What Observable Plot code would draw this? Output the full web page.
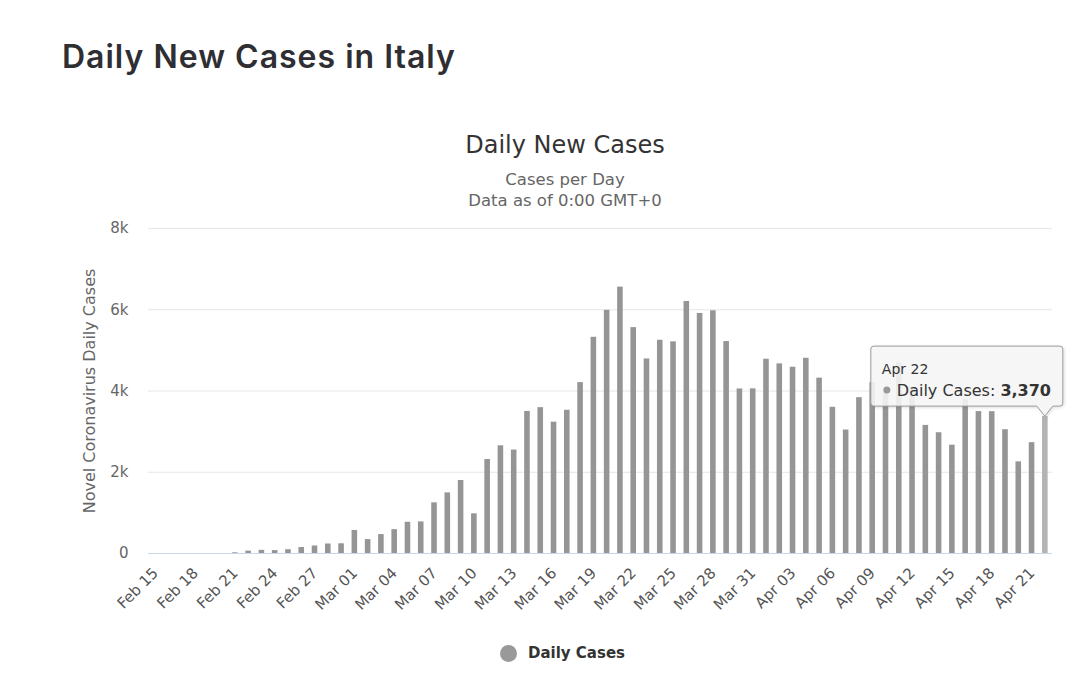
<!DOCTYPE html>
<html><head><meta charset="utf-8">
<script src="https://cdn.jsdelivr.net/npm/d3@7"></script>
<script src="https://cdn.jsdelivr.net/npm/@observablehq/plot@0.6"></script>
<style>
body{margin:0;background:#fff;width:1080px;height:679px;position:relative;overflow:hidden;font-family:"DejaVu Sans",sans-serif;}
#pagetitle{position:absolute;left:62px;top:37px;margin:0;font:600 32px "Inter",sans-serif;letter-spacing:1px;color:#2e2e33;white-space:nowrap}
#ctitle{position:absolute;left:0;width:1130px;top:131px;text-align:center;font-size:24px;color:#333}
#csub{position:absolute;left:0;width:1130px;top:169px;text-align:center;font-size:16.5px;color:#666;line-height:21px}
#chart{position:absolute;left:0;top:210px}
#ylabel{position:absolute;left:89px;top:391px;transform:translate(-50%,-50%) rotate(-90deg);font-size:16px;color:#666;white-space:nowrap}
#legend{position:absolute;left:500px;top:644px;font-size:15px;font-weight:bold;color:#333;display:flex;align-items:center;white-space:nowrap}
#legend span.dot{display:inline-block;width:17px;height:17px;border-radius:50%;background:#999;margin-right:11px}
#tip{position:absolute;left:0;top:0;pointer-events:none}
</style>
</head><body>
<h1 id="pagetitle">Daily New Cases in Italy</h1>
<div id="ctitle">Daily New Cases</div>
<div id="csub">Cases per Day<br>Data as of 0:00 GMT+0</div>
<div id="chart"></div>
<div id="ylabel">Novel Coronavirus Daily Cases</div>
<div id="legend"><span class="dot"></span>Daily Cases</div>
<script>
const dates = ["Feb 15","Feb 16","Feb 17","Feb 18","Feb 19","Feb 20","Feb 21","Feb 22","Feb 23","Feb 24","Feb 25","Feb 26","Feb 27","Feb 28","Feb 29",
"Mar 01","Mar 02","Mar 03","Mar 04","Mar 05","Mar 06","Mar 07","Mar 08","Mar 09","Mar 10","Mar 11","Mar 12","Mar 13","Mar 14","Mar 15","Mar 16","Mar 17","Mar 18","Mar 19","Mar 20","Mar 21","Mar 22","Mar 23","Mar 24","Mar 25","Mar 26","Mar 27","Mar 28","Mar 29","Mar 30","Mar 31",
"Apr 01","Apr 02","Apr 03","Apr 04","Apr 05","Apr 06","Apr 07","Apr 08","Apr 09","Apr 10","Apr 11","Apr 12","Apr 13","Apr 14","Apr 15","Apr 16","Apr 17","Apr 18","Apr 19","Apr 20","Apr 21","Apr 22"];
const cases = [0,0,0,0,0,0,17,59,78,72,94,147,185,234,239,
566,342,466,587,769,778,1247,1492,1797,977,2313,2651,2547,3497,3590,3233,3526,4207,5322,5986,6557,5560,4789,5249,5210,6203,5909,5974,5217,4050,4053,
4782,4668,4585,4805,4316,3599,3039,3836,4204,3951,4694,4092,3153,2972,2667,3786,3493,3491,3047,2256,2729,3370];
const xTicks = ["Feb 15","Feb 18","Feb 21","Feb 24","Feb 27","Mar 01","Mar 04","Mar 07","Mar 10","Mar 13","Mar 16","Mar 19","Mar 22","Mar 25","Mar 28","Mar 31","Apr 03","Apr 06","Apr 09","Apr 12","Apr 15","Apr 18","Apr 21"];
const yTicks = [0,2000,4000,6000,8000];
const tipDate = "Apr 22";
const seriesName = "Daily Cases";

const data = dates.map((d,i)=>({date:d, cases:cases[i]}));

const chart = Plot.plot({
  width:1080, height:420,
  marginTop:18, marginBottom:77, marginLeft:148, marginRight:28,
  style:{fontFamily:"DejaVu Sans, sans-serif", fontSize:"14px", color:"#666", background:"transparent", overflow:"visible"},
  x:{type:"band", domain:dates, paddingInner:0.58, paddingOuter:0.33, round:false, label:null},
  y:{domain:[0,8000], label:null},
  color:{type:"identity"},
  marks:[
    Plot.ruleY(yTicks.filter(v=>v>0), {stroke:"#e6e6e6"}),
    Plot.barY(data, {x:"date", y:"cases", fill: d => d.date === tipDate ? "#b3b3b3" : "#959595"}),
    Plot.ruleY([0], {stroke:"#ccd6eb"}),
    Plot.axisY({ticks:yTicks, tickSize:0, tickPadding:20, tickFormat: d => d === 0 ? "0" : (d/1000) + "k", label:null, fontSize:15, fill:"#666"}),
    Plot.axisX({ticks:xTicks, tickSize:0, tickPadding:17, tickRotate:-45, label:null, fontSize:15, fill:"#555"})
  ]
});
document.getElementById("chart").appendChild(chart);

// tooltip anchored to the data point through the chart's scales
const xs = chart.scale("x"), ys = chart.scale("y");
const offX = 0, offY = 210;
const tipVal = cases[dates.indexOf(tipDate)];
const px = offX + xs.apply(tipDate) + xs.bandwidth/2;
const py = offY + ys.apply(tipVal);
const L = px - 174, R = px + 18, T = py - 70, B = py - 10, r = 3;
const svg = d3.select("body").append("svg").attr("id","tip").attr("width",1080).attr("height",679);
const defs = svg.append("defs");
const f = defs.append("filter").attr("id","sh").attr("x","-10%").attr("y","-10%").attr("width","130%").attr("height","140%");
f.append("feDropShadow").attr("dx",1).attr("dy",1).attr("stdDeviation",1.5).attr("flood-color","#000").attr("flood-opacity",0.15);
const path = `M${L+r},${T} L${R-r},${T} Q${R},${T} ${R},${T+r} L${R},${B-r} Q${R},${B} ${R-r},${B} L${px+8},${B} L${px},${py} L${px-8},${B} L${L+r},${B} Q${L},${B} ${L},${B-r} L${L},${T+r} Q${L},${T} ${L+r},${T} Z`;
svg.append("path").attr("d",path).attr("fill","rgba(247,247,247,0.88)").attr("stroke","#9a9a9a").attr("stroke-width",1).attr("filter","url(#sh)");
svg.append("text").attr("x",L+11).attr("y",T+28).attr("font-family","DejaVu Sans, sans-serif").attr("font-size",14).attr("fill","#333").text(tipDate);
svg.append("circle").attr("cx",L+16).attr("cy",T+44).attr("r",3.5).attr("fill","#999");
const t2 = svg.append("text").attr("x",L+26).attr("y",T+50).attr("font-family","DejaVu Sans, sans-serif").attr("font-size",16).attr("fill","#333");
t2.append("tspan").text(seriesName + ": ");
t2.append("tspan").attr("font-weight","bold").text(d3.format(",")(tipVal));
</script>
</body></html>
